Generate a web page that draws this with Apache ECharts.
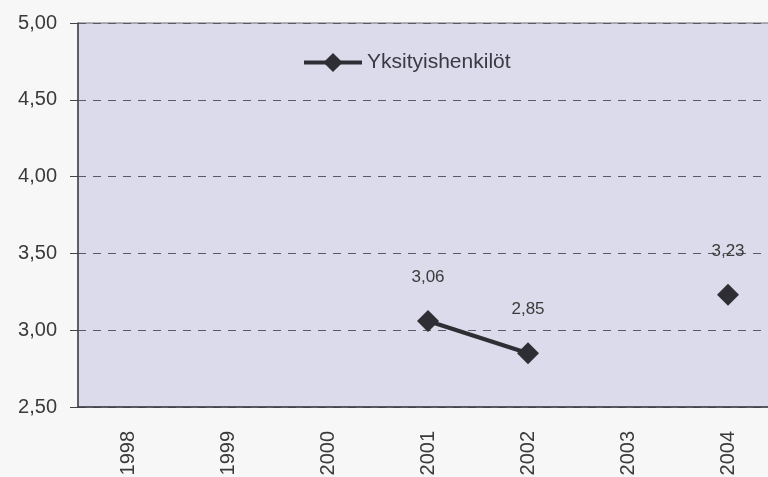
<!DOCTYPE html>
<html>
<head>
<meta charset="utf-8">
<script src="https://cdn.jsdelivr.net/npm/echarts@6/dist/echarts.min.js"></script>
<style>
  html, body { margin: 0; padding: 0; background: #f7f7f7; }
  #chart { width: 768px; height: 477px; }
</style>
</head>
<body>
<div id="chart"></div>
<script>
// Years on the category axis (the last one runs past the right edge)
const years = ['1998', '1999', '2000', '2001', '2002', '2003', '2004', '2005'];
// Yksityishenkilöt values per year; null where there is no figure
const privateValues = [null, null, null, 3.06, 2.85, null, 3.23, null];
const seriesName = 'Yksityishenkilöt';
// Value axis range and step
const yMin = 2.5;
const yMax = 5.0;
const yStep = 0.5;

const FONT = "'Liberation Sans', Arial, sans-serif";
const fmt = v => v.toFixed(2).replace('.', ',');

const chart = echarts.init(document.getElementById('chart'), null, { renderer: 'canvas' });
chart.setOption({
  backgroundColor: '#f7f7f7',
  animation: false,
  textStyle: { fontFamily: FONT },
  grid: {
    left: 78, width: 800, top: 23, bottom: 70,
    containLabel: false,
    outerBoundsMode: 'none',
    show: true,
    backgroundColor: '#dbdbeb',
    borderColor: '#6a6a74',
    borderWidth: 1
  },
  legend: {
    data: [seriesName],
    left: 302, top: 52,
    padding: 0,
    itemWidth: 58, itemHeight: 24, itemGap: 8,
    lineStyle: { width: 4 },
    textStyle: { fontFamily: FONT, fontSize: 21, color: '#3a3a44' }
  },
  xAxis: {
    type: 'category',
    data: years,
    boundaryGap: true,
    axisLine: { show: true, lineStyle: { color: '#3e3e44', width: 1.5 } },
    axisTick: { show: false },
    axisLabel: { rotate: 90, margin: 24, fontSize: 20, color: '#3a3a3a', fontFamily: FONT },
    splitLine: { show: false }
  },
  yAxis: {
    type: 'value',
    min: yMin, max: yMax, interval: yStep,
    axisLine: { show: true, lineStyle: { color: '#44444c', width: 1.5 } },
    axisTick: { show: true, length: 8, lineStyle: { color: '#44444c' } },
    axisLabel: { margin: 21, fontSize: 20, color: '#3a3a3a', fontFamily: FONT, formatter: fmt },
    splitLine: { show: true, lineStyle: { color: '#5a5a66', type: [8, 7], width: 1 } }
  },
  series: [{
    name: seriesName,
    type: 'line',
    data: privateValues,
    connectNulls: false,
    symbol: 'diamond',
    symbolSize: 22,
    showSymbol: true,
    itemStyle: { color: '#2e2e34' },
    lineStyle: { color: '#2e2e34', width: 4 },
    label: {
      show: true, position: 'top', distance: 24,
      fontSize: 17, color: '#3a3a3a', fontFamily: FONT,
      formatter: p => fmt(p.value)
    }
  }]
});
</script>
</body>
</html>
